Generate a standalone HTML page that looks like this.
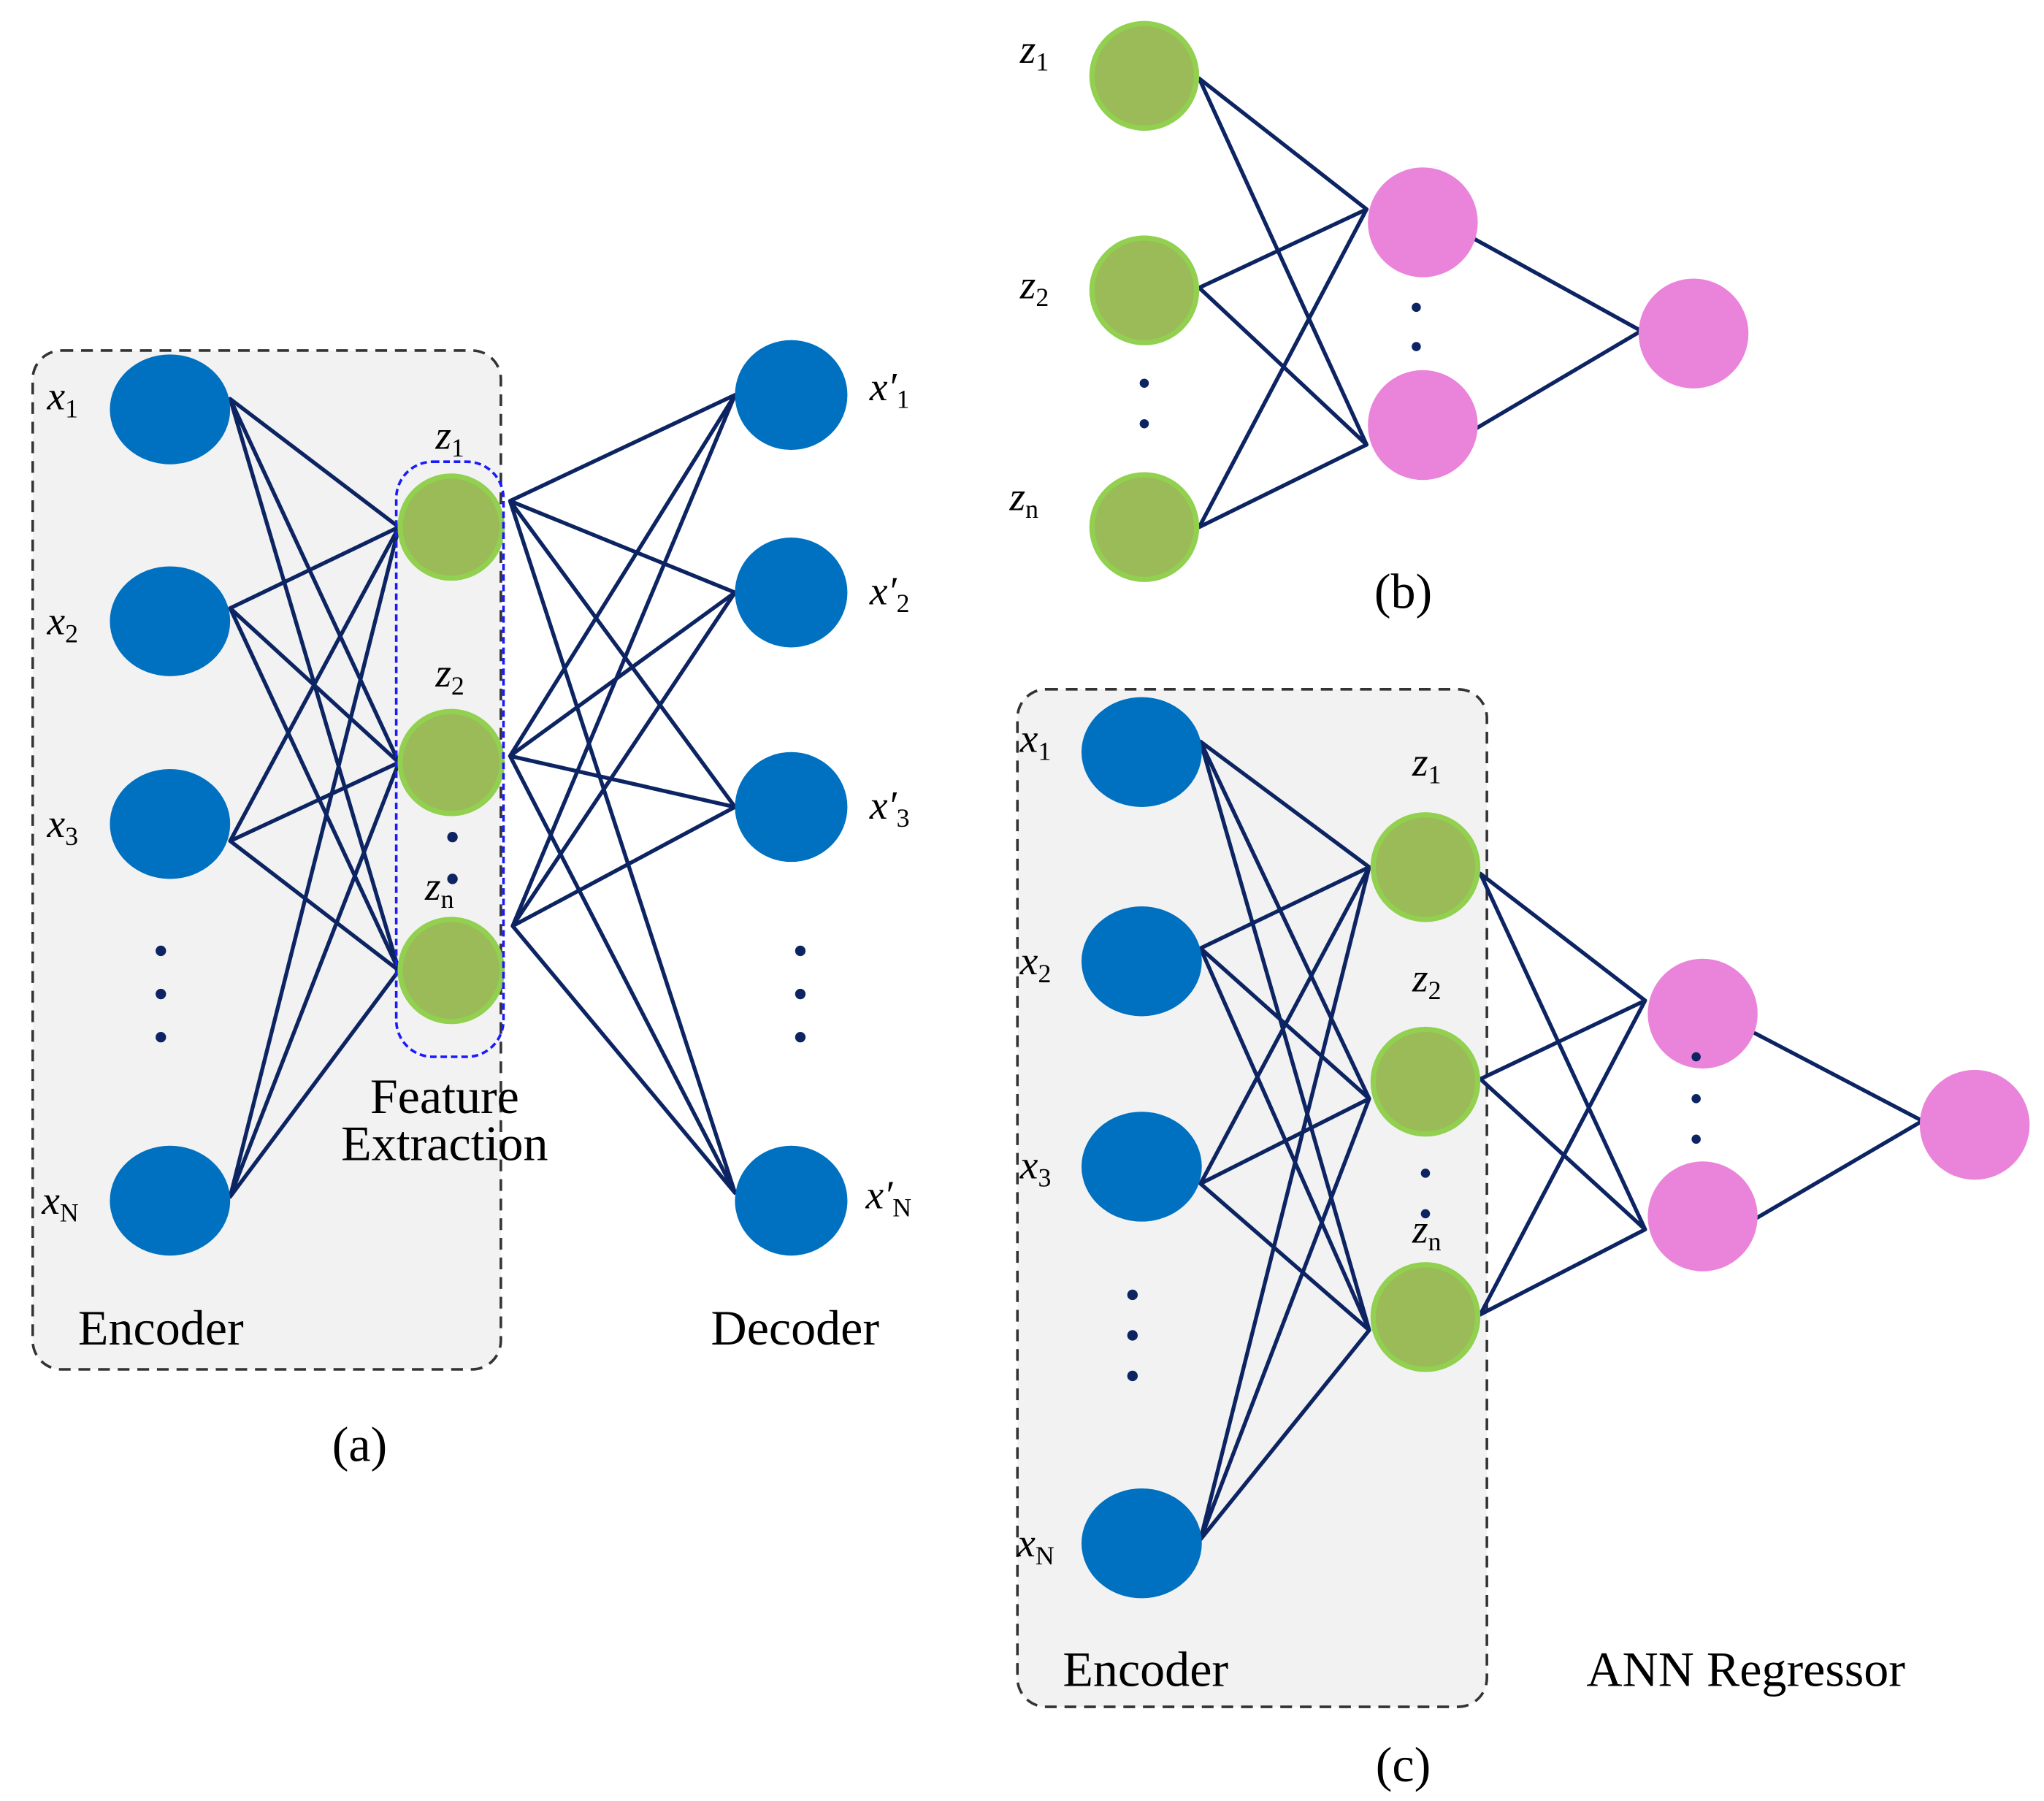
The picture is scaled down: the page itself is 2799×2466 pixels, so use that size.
<!DOCTYPE html>
<html><head><meta charset="utf-8"><style>html,body{margin:0;padding:0;background:#fff}svg{display:block}</style></head>
<body>
<svg width="2799" height="2466" viewBox="0 0 1563 1377" preserveAspectRatio="none" xmlns="http://www.w3.org/2000/svg" font-family="Liberation Serif, serif">
<defs><style>
.b{fill:#0070c0}.g{fill:#9bbb59;stroke:#92d050;stroke-width:4}.p{fill:#ea83da}
.l{stroke:#0d2463;stroke-width:3;fill:none;stroke-linecap:round}
.d{fill:#0d2463}
text{fill:#000}
.i{font-style:italic;font-size:31px}.s{font-size:20px;font-style:normal}
.t{font-size:38px}
</style></defs>

<!-- (a) -->
<rect x="25" y="268" width="358" height="779" rx="22" fill="#f2f2f2" stroke="#333" stroke-width="2" stroke-dasharray="9,6"/>
<g class="l">
<path d="M176 305L305 403M176 305L305 583M176 305L305 742M176 465L305 403M176 465L305 583M176 465L305 742M176 643L305 403M176 643L305 583M176 643L305 742M176 915L305 403M176 915L305 583M176 915L305 742"/>
<path d="M390 383L562 302M390 383L562 453M390 383L562 617M390 383L562 912M390 578L562 302M390 578L562 453M390 578L562 617M390 578L562 912M392 708L562 302M392 708L562 453M392 708L562 617M392 708L562 912"/>
</g>
<ellipse class="b" cx="130" cy="313" rx="46" ry="42"/>
<ellipse class="b" cx="130" cy="475" rx="46" ry="42"/>
<ellipse class="b" cx="130" cy="630" rx="46" ry="42"/>
<ellipse class="b" cx="130" cy="918" rx="46" ry="42"/>
<circle class="d" cx="123" cy="727" r="4"/><circle class="d" cx="123" cy="760" r="4"/><circle class="d" cx="123" cy="793" r="4"/>
<circle class="g" cx="345" cy="403" r="39"/>
<circle class="g" cx="345" cy="583" r="39"/>
<circle class="g" cx="345" cy="742" r="39"/>
<circle class="d" cx="346" cy="640" r="4"/><circle class="d" cx="346" cy="672" r="4"/>
<rect x="303" y="353" width="82" height="455" rx="28" fill="none" stroke="#1a1aff" stroke-width="2" stroke-dasharray="5,3"/>
<ellipse class="b" cx="605" cy="302" rx="43" ry="42"/>
<ellipse class="b" cx="605" cy="453" rx="43" ry="42"/>
<ellipse class="b" cx="605" cy="617" rx="43" ry="42"/>
<ellipse class="b" cx="605" cy="918" rx="43" ry="42"/>
<circle class="d" cx="612" cy="727" r="4"/><circle class="d" cx="612" cy="760" r="4"/><circle class="d" cx="612" cy="793" r="4"/>
<text class="i" x="36" y="313">x<tspan class="s" dy="6">1</tspan></text>
<text class="i" x="36" y="485">x<tspan class="s" dy="6">2</tspan></text>
<text class="i" x="36" y="640">x<tspan class="s" dy="6">3</tspan></text>
<text class="i" x="32" y="928">x<tspan class="s" dy="6">N</tspan></text>
<text class="i" x="333" y="343">z<tspan class="s" dy="6">1</tspan></text>
<text class="i" x="333" y="525">z<tspan class="s" dy="6">2</tspan></text>
<text class="i" x="325" y="688">z<tspan class="s" dy="6">n</tspan></text>
<text class="i" x="665" y="306">x′<tspan class="s" dy="6">1</tspan></text>
<text class="i" x="665" y="462">x′<tspan class="s" dy="6">2</tspan></text>
<text class="i" x="665" y="626">x′<tspan class="s" dy="6">3</tspan></text>
<text class="i" x="662" y="924">x′<tspan class="s" dy="6">N</tspan></text>
<text class="t" x="340" y="851" text-anchor="middle">Feature</text>
<text class="t" x="340" y="887" text-anchor="middle">Extraction</text>
<text class="t" x="123" y="1028" text-anchor="middle">Encoder</text>
<text class="t" x="608" y="1028" text-anchor="middle">Decoder</text>
<text class="t" x="275" y="1117" text-anchor="middle">(a)</text>

<!-- (b) -->
<g class="l">
<path d="M917 60L1045 160M917 60L1045 340M917 220L1045 160M917 220L1045 340M917 403L1045 160M917 403L1045 340M1128 183L1255 253M1128 328L1255 253"/>
</g>
<circle class="g" cx="875" cy="58" r="40"/>
<circle class="g" cx="875" cy="222" r="40"/>
<circle class="g" cx="875" cy="403" r="40"/>
<circle class="d" cx="875" cy="293" r="3.5"/><circle class="d" cx="875" cy="324" r="3.5"/>
<ellipse class="p" cx="1088" cy="170" rx="42" ry="42"/>
<ellipse class="p" cx="1088" cy="325" rx="42" ry="42"/>
<circle class="d" cx="1083" cy="235" r="3.5"/><circle class="d" cx="1083" cy="265" r="3.5"/>
<ellipse class="p" cx="1295" cy="255" rx="42" ry="42"/>
<text class="i" x="780" y="48">z<tspan class="s" dy="6">1</tspan></text>
<text class="i" x="780" y="228">z<tspan class="s" dy="6">2</tspan></text>
<text class="i" x="772" y="390">z<tspan class="s" dy="6">n</tspan></text>
<text class="t" x="1073" y="465" text-anchor="middle">(b)</text>

<!-- (c) -->
<rect x="778" y="527" width="359" height="778" rx="22" fill="#f2f2f2" stroke="#333" stroke-width="2" stroke-dasharray="9,6"/>
<g class="l">
<path d="M918 567L1047 663M918 567L1047 840M918 567L1047 1017M918 725L1047 663M918 725L1047 840M918 725L1047 1017M918 905L1047 663M918 905L1047 840M918 905L1047 1017M918 1177L1047 663M918 1177L1047 840M918 1177L1047 1017"/>
<path d="M1132 668L1258 765M1132 668L1258 940M1132 825L1258 765M1132 825L1258 940M1132 1005L1258 765M1132 1005L1258 940M1342 790L1470 857M1342 932L1470 857"/>
</g>
<ellipse class="b" cx="873" cy="575" rx="46" ry="42"/>
<ellipse class="b" cx="873" cy="735" rx="46" ry="42"/>
<ellipse class="b" cx="873" cy="892" rx="46" ry="42"/>
<ellipse class="b" cx="873" cy="1180" rx="46" ry="42"/>
<circle class="d" cx="866" cy="990" r="4"/><circle class="d" cx="866" cy="1021" r="4"/><circle class="d" cx="866" cy="1052" r="4"/>
<circle class="g" cx="1090" cy="663" r="40"/>
<circle class="g" cx="1090" cy="827" r="40"/>
<circle class="g" cx="1090" cy="1007" r="40"/>
<circle class="d" cx="1090" cy="897" r="3.5"/><circle class="d" cx="1090" cy="928" r="3.5"/>
<ellipse class="p" cx="1302" cy="775" rx="42" ry="42"/>
<ellipse class="p" cx="1302" cy="930" rx="42" ry="42"/>
<circle class="d" cx="1297" cy="808" r="3.5"/><circle class="d" cx="1297" cy="840" r="3.5"/><circle class="d" cx="1297" cy="871" r="3.5"/>
<ellipse class="p" cx="1510" cy="860" rx="42" ry="42"/>
<text class="i" x="780" y="575">x<tspan class="s" dy="6">1</tspan></text>
<text class="i" x="780" y="745">x<tspan class="s" dy="6">2</tspan></text>
<text class="i" x="780" y="901">x<tspan class="s" dy="6">3</tspan></text>
<text class="i" x="778" y="1190">x<tspan class="s" dy="6">N</tspan></text>
<text class="i" x="1080" y="593">z<tspan class="s" dy="6">1</tspan></text>
<text class="i" x="1080" y="758">z<tspan class="s" dy="6">2</tspan></text>
<text class="i" x="1080" y="950">z<tspan class="s" dy="6">n</tspan></text>
<text class="t" x="876" y="1289" text-anchor="middle">Encoder</text>
<text class="t" x="1335" y="1289" text-anchor="middle">ANN Regressor</text>
<text class="t" x="1073" y="1362" text-anchor="middle">(c)</text>
</svg>
</body></html>
